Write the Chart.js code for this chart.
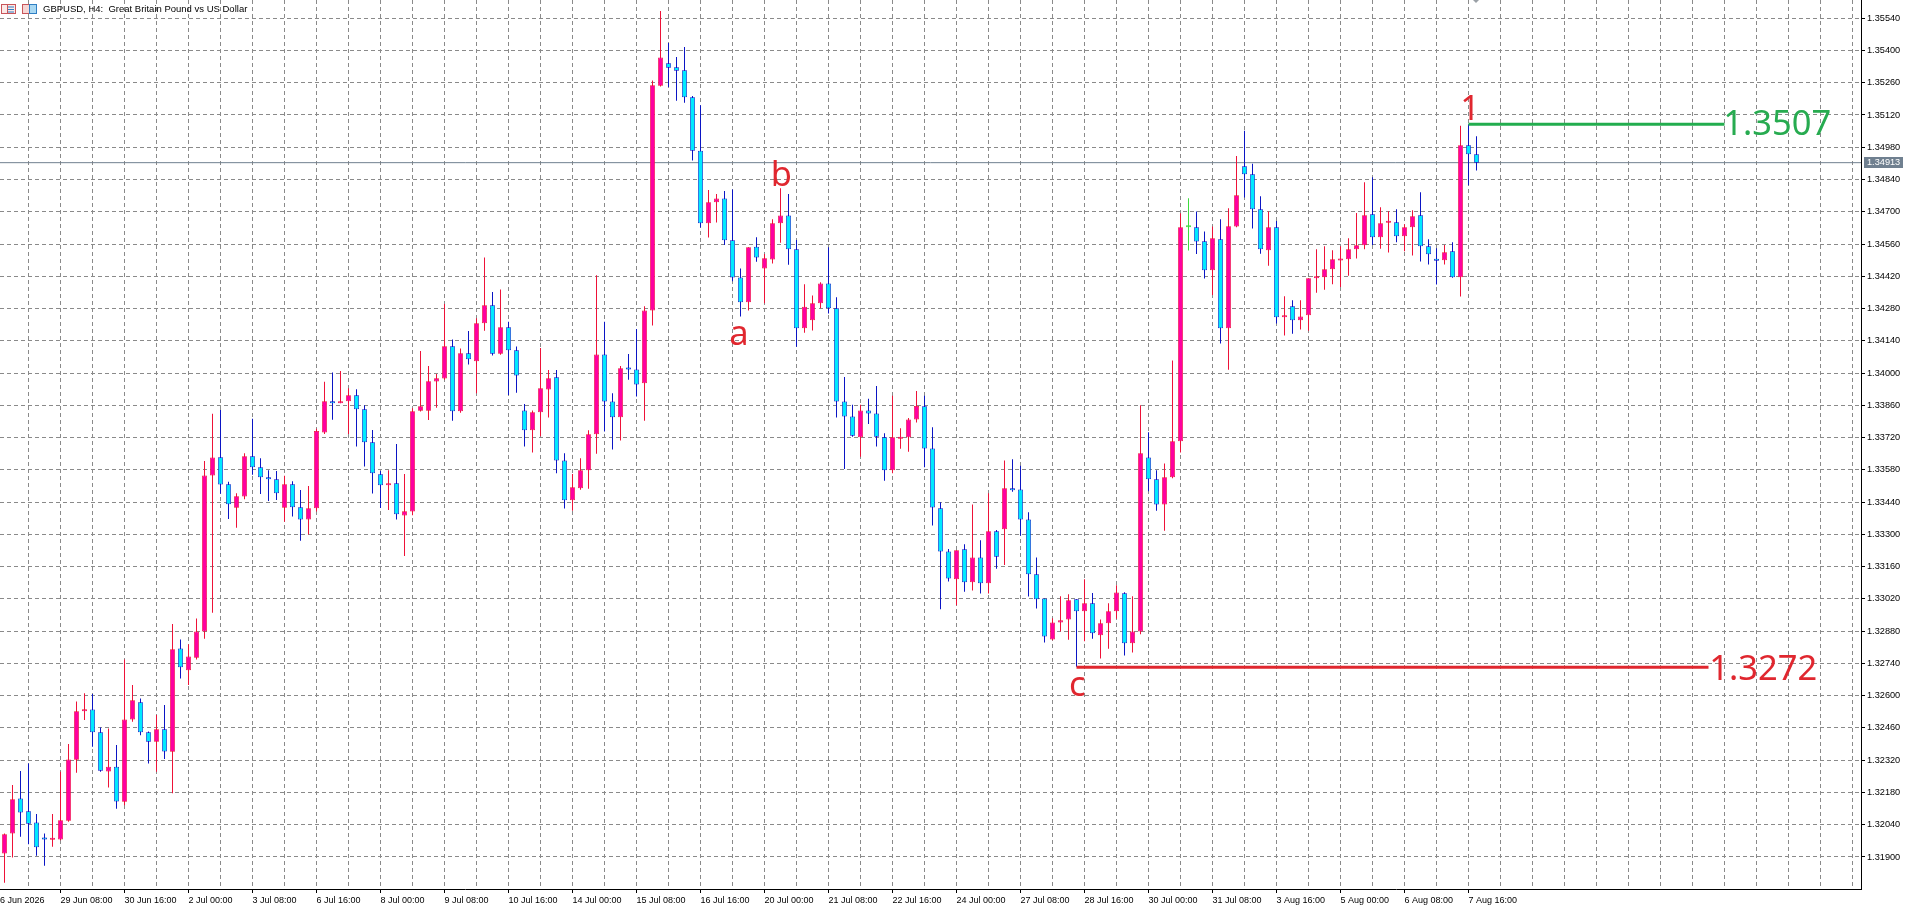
<!DOCTYPE html>
<html><head><meta charset="utf-8"><title>GBPUSD H4</title>
<style>html,body{margin:0;padding:0;background:#fff;overflow:hidden}canvas{display:block}</style>
<script src="https://cdn.jsdelivr.net/npm/chart.js@4"></script></head><body>
<canvas id="c" width="1906" height="909"></canvas>
<script>
const POINT = 1e-5;
const opens = [131915,132002,132154,132098,132050,131979,131975,131976,132057,132322,132532,132540,132441,132271,132292,132140,132497,132571,132441,132400,132454,132357,132805,132710,132765,132879,133556,133635,133517,133416,133464,133639,133591,133548,133539,133416,133517,133418,133365,133413,133742,133878,133869,133878,133904,133843,133700,133561,133513,133522,133382,133399,133837,133837,133963,133976,134116,133834,134086,134051,134216,134294,134084,134199,134099,133838,133752,133830,133929,133982,133621,133448,133500,133578,133734,134081,133877,133808,134021,134016,133956,134272,135247,135344,135327,135314,135197,134965,134650,134741,134758,134576,134415,134307,134548,134454,134493,134650,134684,134537,134194,134229,134303,134389,134281,133877,133812,133721,133838,133825,133721,133578,133715,133721,133799,133856,133673,133413,133226,133105,133235,133092,133200,133088,133313,133322,133497,133495,133365,133127,133022,132844,132918,132931,133018,132966,133001,132862,132914,132966,133044,132827,132879,133634,133539,133430,133548,133704,134633,134633,134572,134446,134581,134194,134636,134898,134863,134711,134533,134633,134242,134290,134229,134251,134411,134416,134450,134488,134494,134537,134555,134689,134589,134652,134654,134594,134633,134685,134550,134491,134490,134529,134416,134989,134950];
const highs = [132002,132212,132273,132306,132086,132002,132086,132270,132390,132575,132610,132607,132462,132458,132386,132757,132646,132588,132444,132516,132559,132911,132844,132823,132935,133618,133823,133840,133528,133478,133652,133802,133630,133578,133575,133554,133530,133493,133510,133758,133962,134003,134009,133934,133930,133860,133753,133575,133578,133692,133562,133847,134096,134031,133996,134300,134146,134107,134183,134238,134502,134352,134363,134223,134115,133866,133838,134109,134013,134013,133652,133562,133630,133752,134424,134223,133912,134031,134083,134191,134290,135270,135571,135432,135372,135415,135202,135162,134794,134777,134790,134797,134454,134546,134589,134517,134667,134802,134777,134577,134385,134337,134394,134546,134329,133983,133862,133862,133888,133944,133739,133902,133760,133805,133922,133902,133765,133439,133237,133231,133257,133430,133274,133478,133319,133621,133626,133598,133396,133200,133022,132936,133031,133040,133018,133105,133046,132931,133001,133079,133049,133031,133860,133743,133578,133608,134055,134694,134759,134701,134614,134636,134667,134715,134942,135052,134908,134767,134701,134660,134333,134316,134316,134411,134537,134550,134533,134550,134585,134695,134828,134850,134720,134702,134711,134646,134707,134785,134581,134542,134556,134568,135073,135080,135028];
const lows = [131788,131898,131988,131955,131905,131862,131944,131973,132053,132266,132494,132378,132270,132202,132109,132124,132487,132428,132306,132270,132325,132176,132674,132646,132757,132847,132960,133476,133367,133329,133452,133559,133475,133445,133449,133355,133377,133272,133299,133399,133736,133797,133869,133736,133681,133594,133477,133414,133406,133364,133206,133383,133833,133796,133850,133971,133793,133828,134037,133912,134184,134076,134080,133905,133915,133681,133655,133726,133807,133565,133412,133403,133494,133498,133650,133746,133668,133707,133971,133898,133793,134206,135244,135241,135182,135173,134922,134632,134588,134653,134556,134398,134245,134271,134483,134303,134475,134566,134470,134114,134175,134185,134281,134259,133807,133584,133724,133637,133779,133681,133533,133565,133672,133659,133785,133591,133338,132975,133095,132992,133051,133056,133043,133043,133151,133167,133485,133294,133030,132978,132831,132840,132879,132843,132725,132836,132847,132761,132804,132934,132774,132787,132866,133487,133403,133316,133543,133655,134532,134517,134410,134339,134128,134014,134633,134762,134627,134518,134466,134215,134163,134171,134189,134184,134349,134362,134385,134374,134422,134497,134537,134556,134540,134523,134568,134529,134510,134484,134471,134384,134471,134414,134332,134815,134879];
const closes = [131999,132150,132093,132044,131942,131976,131978,132059,132323,132532,132535,132441,132274,132292,132141,132497,132580,132441,132400,132454,132358,132801,132723,132770,132879,133556,133634,133516,133431,133465,133639,133591,133548,133539,133478,133517,133418,133365,133413,133749,133878,133869,133878,133904,133843,133700,133565,133513,133522,133387,133400,133834,133856,133964,133977,134116,133834,134086,134060,134216,134294,134084,134199,134099,133989,133752,133830,133934,133977,133621,133448,133504,133578,133734,134081,133877,133808,134021,134016,133950,134272,135249,135370,135325,135312,135197,134965,134650,134741,134758,134576,134415,134307,134546,134502,134498,134650,134684,134537,134194,134288,134303,134389,134281,133877,133812,133728,133838,133825,133724,133578,133721,133718,133799,133857,133673,133417,133226,133109,133231,133092,133200,133088,133313,133203,133500,133491,133365,133127,133018,132857,132918,132927,133014,132966,133001,132871,132914,132966,133048,132827,132879,133652,133539,133430,133548,133704,134633,134633,134571,134446,134585,134194,134637,134772,134863,134711,134537,134633,134242,134248,134229,134246,134411,134417,134450,134494,134494,134537,134555,134685,134589,134650,134657,134594,134633,134681,134550,134516,134487,134524,134416,134989,134950,134913];

const timeLabelText = ['6 Jun 2026','29 Jun 08:00','30 Jun 16:00','2 Jul 00:00','3 Jul 08:00','6 Jul 16:00','8 Jul 00:00','9 Jul 08:00','10 Jul 16:00','14 Jul 00:00','15 Jul 08:00','16 Jul 16:00','20 Jul 00:00','21 Jul 08:00','22 Jul 16:00','24 Jul 00:00','27 Jul 08:00','28 Jul 16:00','30 Jul 00:00','31 Jul 08:00','3 Aug 16:00','5 Aug 00:00','6 Aug 08:00','7 Aug 16:00'];
const timeLabelBars = [-0.5625,7,15,23,31,39,47,55,63,71,79,87,95,103,111,119,127,135,143,151,159,167,175,183];
const gridBars = [3,7,11,15,19,23,27,31,35,39,43,47,51,55,59,63,67,71,75,79,83,87,91,95,99,103,107,111,115,119,123,127,131,135,139,143,147,151,155,159,163,167,171,175,179,183,187,191,195,199,203,207,211,215,219,223,227,231];
const priceTicks = [1.319,1.3204,1.3218,1.3232,1.3246,1.326,1.3274,1.3288,1.3302,1.3316,1.333,1.3344,1.3358,1.3372,1.3386,1.34,1.3414,1.3428,1.3442,1.3456,1.347,1.3484,1.3498,1.3512,1.3526,1.354,1.3554];

const lastPrice = 1.34913;
const titleText = 'GBPUSD, H4:  Great Britain Pound vs US Dollar';
const noteText = ['a','b','c','1'];
const noteBar = [91.8,97.1,134.1,183.2];
const notePrice = [1.34122,1.34812,1.32599,1.35099];
const levelText = ['1.3507','1.3272'];
const levelPrice = [1.3508,1.32723];
const levelFromBar = [183,134];
const levelToBar = [215,213];
const levelLabelBar = [214.85,213.1];
const levelLabelPrice = [1.35034,1.3267];

const UP_FILL='#ff00a0', UP_LINE='#ee1238', DN_FILL='#00eaff', DN_LINE='#0b15c4', DOJI='#3ddc3d';
const RED_TXT='#e0272f', GREEN_TXT='#27ab50', GRID='#8a8a8a';
const AXIS_FONT='"Liberation Sans"';

const idx = opens.map((_,i)=>i);
const fillOf = i => closes[i]===opens[i] ? DOJI : closes[i]>opens[i] ? UP_FILL : DN_FILL;
const lineOf = i => closes[i]===opens[i] ? DOJI : closes[i]>opens[i] ? UP_LINE : DN_LINE;

const overlay = {
  id:'overlay',
  afterDraw(chart){
    const {ctx,scales:{x,y}} = chart;
    ctx.save();
    // chart header icons
    ctx.lineWidth=1;
    ctx.strokeStyle='#c8555a'; ctx.fillStyle='#fbe9e7';
    ctx.fillRect(1.5,4.5,14,9); ctx.strokeRect(1.5,4.5,14,9);
    ctx.strokeStyle='#2f7fc4';
    [7,9.5,12].forEach(v=>{ctx.beginPath();ctx.moveTo(8,v);ctx.lineTo(14,v);ctx.stroke();});
    ctx.strokeStyle='#c8555a';
    ctx.beginPath();ctx.moveTo(7.5,5);ctx.lineTo(7.5,13);ctx.stroke();
    ctx.fillStyle='#f6d5d3';ctx.fillRect(23,5,6,8);ctx.strokeRect(22.5,4.5,7,9);
    ctx.fillStyle='#a9d8f2';ctx.fillRect(30,5,6,8);ctx.strokeStyle='#2f7fc4';ctx.strokeRect(29.5,4.5,7,9);
    // title
    ctx.fillStyle='#000'; ctx.textAlign='left'; ctx.textBaseline='alphabetic';
    ctx.font='9.5px '+AXIS_FONT;
    ctx.fillText(titleText,43,12);
    // price tag
    const py=y.getPixelForValue(lastPrice);
    ctx.fillStyle='#708090'; ctx.fillRect(1864,Math.round(py)-6,39,11);
    ctx.fillStyle='#fff'; ctx.textBaseline='middle'; ctx.font='9.2px '+AXIS_FONT;
    ctx.fillText(lastPrice.toFixed(5),1867,py);
    // chart shift marker
    ctx.fillStyle='#9aa0a6'; ctx.beginPath();ctx.moveTo(1473,0);ctx.lineTo(1479,0);ctx.lineTo(1476,3);ctx.closePath();ctx.fill();
    // wave labels
    ctx.textBaseline='alphabetic'; ctx.font='34.5px "Noto Sans"';
    ctx.fillStyle=RED_TXT; ctx.textAlign='center';
    noteText.forEach((t,k)=>ctx.fillText(t,x.getPixelForValue(noteBar[k]),y.getPixelForValue(notePrice[k])));
    ctx.textAlign='left';
    levelText.forEach((t,k)=>{
      ctx.fillStyle=k===0?GREEN_TXT:RED_TXT;
      ctx.fillText(t,x.getPixelForValue(levelLabelBar[k]),y.getPixelForValue(levelLabelPrice[k]));
    });
    ctx.restore();
  }
};

new Chart(document.getElementById('c'),{
  type:'bar',
  plugins:[overlay],
  data:{datasets:[
    {type:'line',order:0,data:[{x:levelFromBar[0],y:levelPrice[0]},{x:levelToBar[0],y:levelPrice[0]}],borderColor:'#22ad4e',borderWidth:3,pointRadius:0},
    {type:'line',order:0,data:[{x:levelFromBar[1],y:levelPrice[1]},{x:levelToBar[1],y:levelPrice[1]}],borderColor:'#e0272f',borderWidth:3,pointRadius:0},
    {type:'bar',order:1,grouped:false,barThickness:5,minBarLength:2,inflateAmount:0,borderWidth:0.75,borderSkipped:false,
      data:idx.map(i=>({x:i,y:[opens[i]*POINT,closes[i]*POINT]})),
      backgroundColor:idx.map(fillOf),borderColor:idx.map(lineOf)},
    {type:'bar',order:2,grouped:false,barThickness:1,inflateAmount:0,borderWidth:0,
      data:idx.map(i=>({x:i,y:[lows[i]*POINT,highs[i]*POINT]})),
      backgroundColor:idx.map(lineOf)},
    {type:'line',order:3,data:[{x:-0.5625,y:lastPrice},{x:232.0625,y:lastPrice}],borderColor:'#708090',borderWidth:1,pointRadius:0}
  ]},
  options:{
    responsive:false,animation:false,devicePixelRatio:1,
    layout:{padding:0},
    plugins:{legend:{display:false},tooltip:{enabled:false},title:{display:false}},
    scales:{
      x:{type:'linear',offset:false,position:'bottom',min:-0.5625,max:232.0625,
        afterBuildTicks(s){s.ticks=[-0.5625,...gridBars].map(v=>({value:v}));},
        afterFit(s){s.height=20;s.paddingLeft=0;s.paddingRight=0;s.paddingTop=0;s.paddingBottom=0;},
        grid:{offset:false,drawOnChartArea:true,color:c=>c.tick&&c.tick.value<0?'rgba(0,0,0,0)':GRID,lineWidth:1,tickLength:4,
          tickColor:c=>c.tick&&timeLabelBars.includes(c.tick.value)&&c.tick.value>=0?'#000':'rgba(0,0,0,0)',tickBorderDash:[]},
        border:{display:true,color:'#000',width:1,dash:[4,3]},
        ticks:{autoSkip:false,maxRotation:0,minRotation:0,align:'start',padding:2,color:'#000',font:{family:'Liberation Sans',size:9},
          callback(v){const k=timeLabelBars.indexOf(v);return k>=0?timeLabelText[k]:'';}}
      },
      y:{type:'linear',position:'right',min:1.31761,max:1.35619,
        afterBuildTicks(s){s.ticks=priceTicks.map(v=>({value:v}));},
        afterFit(s){s.width=45;s.paddingLeft=0;s.paddingRight=0;s.paddingTop=0;s.paddingBottom=0;},
        grid:{color:GRID,lineWidth:1,tickLength:4,tickColor:'#000',tickBorderDash:[]},
        border:{display:true,color:'#000',width:1,dash:[4,3]},
        ticks:{autoSkip:false,padding:2,color:'#000',font:{family:'Liberation Sans',size:9.2},callback(v){return v.toFixed(5);}}
      }
    }
  }
});
</script></body></html>
